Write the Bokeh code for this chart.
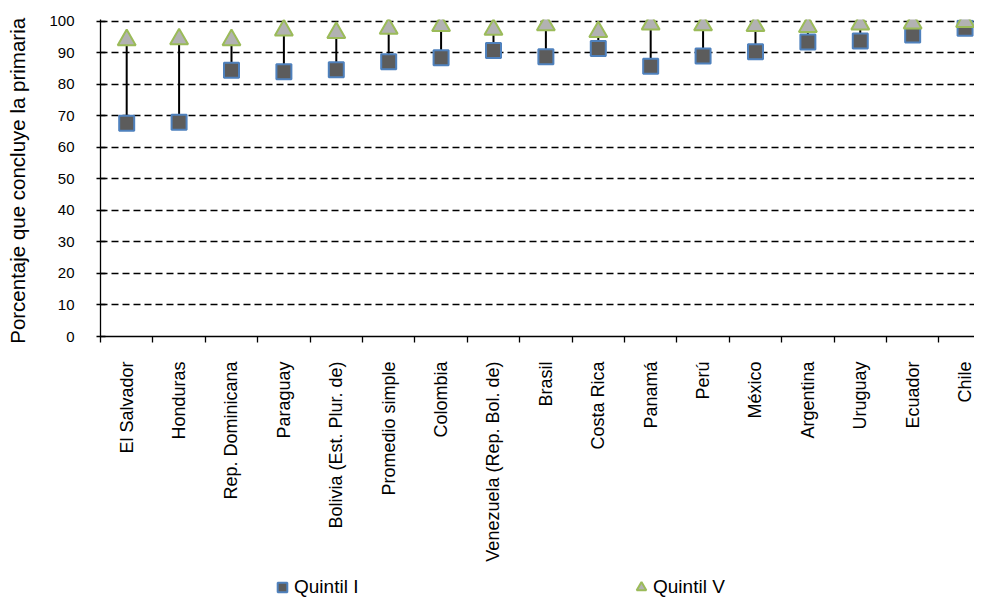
import math
from bokeh.plotting import figure
from bokeh.layouts import column
from bokeh.models import Range1d, FixedTicker, Legend, LegendItem, ColumnDataSource
from bokeh.embed import file_html
from bokeh.resources import INLINE

countries = ["El Salvador", "Honduras", "Rep. Dominicana", "Paraguay",
             "Bolivia (Est. Plur. de)", "Promedio simple", "Colombia",
             "Venezuela (Rep. Bol. de)", "Brasil", "Costa Rica", "Panamá",
             "Perú", "México", "Argentina", "Uruguay", "Ecuador", "Chile"]
quintil_1 = [67.6, 67.9, 84.4, 83.9, 84.6, 87.1, 88.4, 90.7, 88.7, 91.3,
             85.7, 88.9, 90.3, 93.4, 93.7, 95.6, 97.7]
quintil_5 = [94.0, 94.3, 94.0, 97.1, 96.3, 97.6, 98.5, 97.3, 98.7, 96.6,
             99.0, 98.7, 98.5, 98.2, 99.0, 99.3, 99.8]
y_ticks = [0, 10, 20, 30, 40, 50, 60, 70, 80, 90, 100]
series_names = ["Quintil I", "Quintil V"]

FONT = "Liberation Sans"
SQ = dict(marker="square", fill_color="#5c5c5c", line_color="#4F81BD", line_width=2)
TR = dict(marker="triangle", fill_color="#b2b2b2", line_color="#9BBB59", line_width=2)

xs = [i + 0.5 for i in range(len(countries))]
src = ColumnDataSource(dict(x=xs, q1=quintil_1, q5=quintil_5, name=countries))

p = figure(width=974, height=575, output_backend="svg", toolbar_location=None,
           x_range=Range1d(0, 16.68), y_range=Range1d(0, 100.5),
           min_border_left=100, min_border_right=0, min_border_top=19,
           min_border_bottom=239)
p.outline_line_color = None
p.background_fill_color = "white"
p.border_fill_color = "white"

# connectors
p.segment(x0="x", y0="q1", x1="x", y1="q5", source=src,
          line_color="black", line_width=2)
p.scatter(x="x", y="q1", source=src, size=15, **SQ)
p.scatter(x="x", y="q5", source=src, size=18, **TR)

# x axis
xa = p.xaxis[0]
xa.ticker = FixedTicker(ticks=xs, minor_ticks=list(range(0, len(countries) + 1)))
xa.major_label_overrides = {x: c for x, c in zip(xs, countries)}
xa.major_label_orientation = math.pi / 2
xa.major_tick_in = 0
xa.major_tick_out = 0
xa.minor_tick_in = 0
xa.minor_tick_out = 6
xa.minor_tick_line_color = "black"
xa.minor_tick_line_width = 1.3
xa.axis_line_color = "black"
xa.axis_line_width = 1.3
xa.major_label_standoff = 19
xa.major_label_text_font = FONT
xa.major_label_text_font_size = "18px"
xa.major_label_text_color = "black"

# y axis
ya = p.yaxis[0]
ya.ticker = FixedTicker(ticks=y_ticks, minor_ticks=[])
ya.major_tick_in = 5
ya.major_tick_out = 4
ya.major_tick_line_color = "black"
ya.major_tick_line_width = 1.3
ya.axis_line_color = "black"
ya.axis_line_width = 1.3
ya.major_label_standoff = 22
ya.major_label_text_font = FONT
ya.major_label_text_font_size = "15px"
ya.major_label_text_color = "black"
ya.axis_label = "Porcentaje que concluye la  primaria"
ya.axis_label_text_font = FONT
ya.axis_label_text_font_size = "20.5px"
ya.axis_label_text_font_style = "normal"
ya.axis_label_text_color = "black"
ya.axis_label_standoff = 17

p.xgrid.visible = False
p.ygrid.ticker = FixedTicker(ticks=y_ticks[1:])
p.ygrid.grid_line_color = "black"
p.ygrid.grid_line_dash = "7 4"
p.ygrid.grid_line_width = 1.3

# legend strip below the chart (its frame is aligned with the chart's frame)
pl = figure(width=974, height=24, output_backend="svg", toolbar_location=None,
            x_range=Range1d(0, 1), y_range=Range1d(0, 1),
            x_axis_location=None, y_axis_location=None,
            min_border_left=100, min_border_right=0, min_border_top=0,
            min_border_bottom=0)
pl.grid.visible = False
pl.outline_line_color = None
pl.background_fill_color = "white"
pl.border_fill_color = "white"
# single off-canvas points: these renderers only feed the legend
lr1 = pl.scatter(x=[-10], y=[-10], size=10, **SQ)
lr5 = pl.scatter(x=[-10], y=[-10], size=10, **TR)

for name, rend, xloc in [(series_names[0], lr1, 170), (series_names[1], lr5, 529)]:
    lg = Legend(items=[LegendItem(label=name, renderers=[rend])],
                location=(xloc, 0), orientation="horizontal",
                glyph_width=24, glyph_height=24, label_standoff=0,
                padding=0, margin=0, spacing=0,
                background_fill_alpha=0, border_line_color=None,
                label_text_font=FONT, label_text_font_size="19px",
                label_text_color="black")
    pl.add_layout(lg, "center")

layout = column(p, pl, spacing=0)
open("out.html", "w").write(file_html(layout, INLINE))
